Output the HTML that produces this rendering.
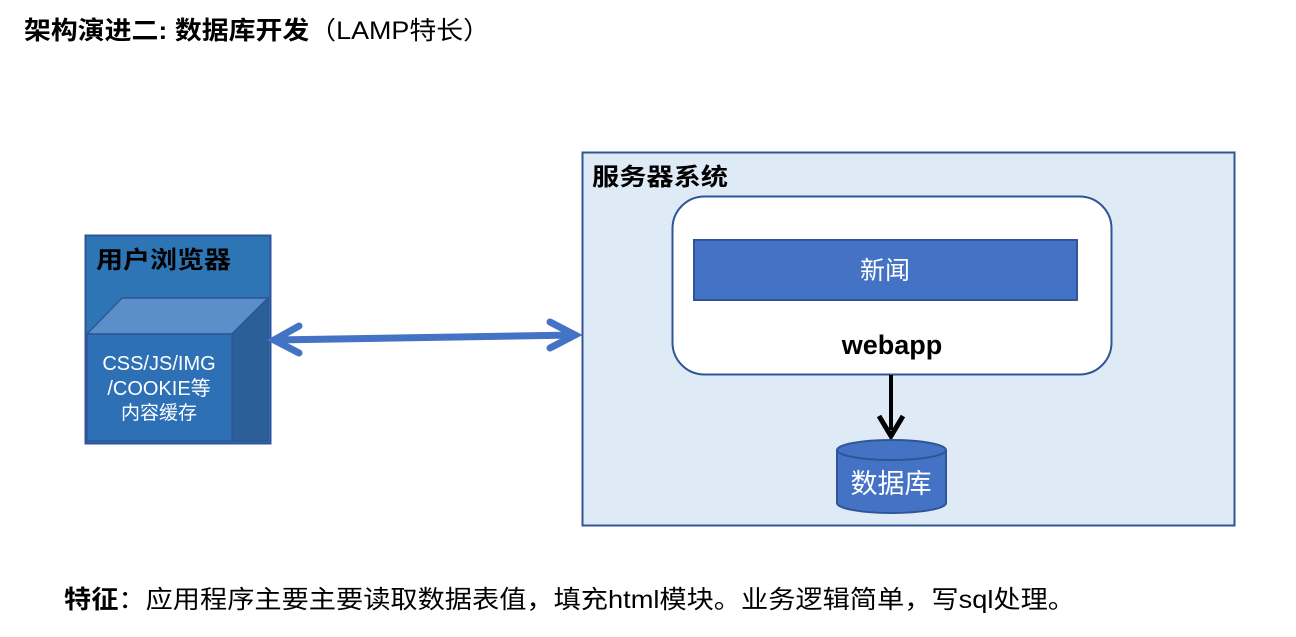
<!DOCTYPE html>
<html><head><meta charset="utf-8"><style>
body{margin:0;width:1296px;height:632px;background:#fff;overflow:hidden}
svg text{font-family:"Liberation Sans","Noto Sans CJK SC",sans-serif}
</style></head><body>
<svg width="1296" height="632" xmlns="http://www.w3.org/2000/svg">
<text x="24" y="39" font-size="25" font-weight="bold" fill="#000" textLength="466" lengthAdjust="spacingAndGlyphs">架构演进二: 数据库开发<tspan font-weight="normal">（LAMP特长）</tspan></text>

<!-- browser -->
<rect x="85.5" y="235.5" width="185" height="208" fill="#2E75B6" stroke="#2F5597" stroke-width="2"/>
<text x="96" y="268" font-size="24" font-weight="bold" fill="#000" textLength="135" lengthAdjust="spacingAndGlyphs">用户浏览器</text>
<polygon points="87,334 122,298 268,298 232,334" fill="#5B8FC9" stroke="#2F5597" stroke-width="1.5"/>
<polygon points="232,334 268,298 268,441 232,441" fill="#2A5F98" stroke="#2F5597" stroke-width="1.5"/>
<rect x="87" y="334" width="145" height="107" fill="#2E70B6" stroke="#2F5597" stroke-width="1.5"/>
<text x="159" y="370" font-size="20" fill="#fff" text-anchor="middle">CSS/JS/IMG</text>
<text x="159" y="395" font-size="20" fill="#fff" text-anchor="middle">/COOKIE等</text>
<text x="159" y="419" font-size="19" fill="#fff" text-anchor="middle">内容缓存</text>

<!-- arrow -->
<g stroke="#4472C4" stroke-width="7" stroke-linecap="round" fill="none">
<line x1="274" y1="340" x2="575" y2="335"/>
<polyline points="299,326 274,340 299,353"/>
<polyline points="550,322 575,335 550,348"/>
</g>

<!-- server -->
<rect x="582.5" y="152.5" width="652" height="373" fill="#DEEAF6" stroke="#2F5597" stroke-width="2"/>
<text x="592" y="185" font-size="24" font-weight="bold" fill="#000" textLength="136" lengthAdjust="spacingAndGlyphs">服务器系统</text>
<rect x="672.5" y="196.5" width="439" height="178" rx="32" fill="#fff" stroke="#2F5597" stroke-width="2"/>
<rect x="694" y="240" width="383" height="60" fill="#4472C4" stroke="#2F5597" stroke-width="2"/>
<text x="885" y="279" font-size="25" fill="#fff" text-anchor="middle">新闻</text>
<text x="892" y="354" font-size="27" font-weight="bold" fill="#000" text-anchor="middle">webapp</text>

<line x1="891" y1="375" x2="891" y2="430" stroke="#000" stroke-width="4"/>
<polyline points="879,416 891,436 903,416" stroke="#000" stroke-width="5" fill="none"/>

<path d="M837,450 L837,503 A54.5,10 0 0 0 946,503 L946,450" fill="#4472C4" stroke="#2F5597" stroke-width="2"/>
<ellipse cx="891.5" cy="450" rx="54.5" ry="10" fill="#4472C4" stroke="#2F5597" stroke-width="2"/>
<text x="891" y="493" font-size="27" fill="#fff" text-anchor="middle">数据库</text>

<text x="64" y="608" font-size="25" fill="#000" textLength="1011" lengthAdjust="spacingAndGlyphs"><tspan font-weight="bold">特征</tspan>：应用程序主要主要读取数据表值，填充html模块。业务逻辑简单，写sql处理。</text>
</svg>
</body></html>
